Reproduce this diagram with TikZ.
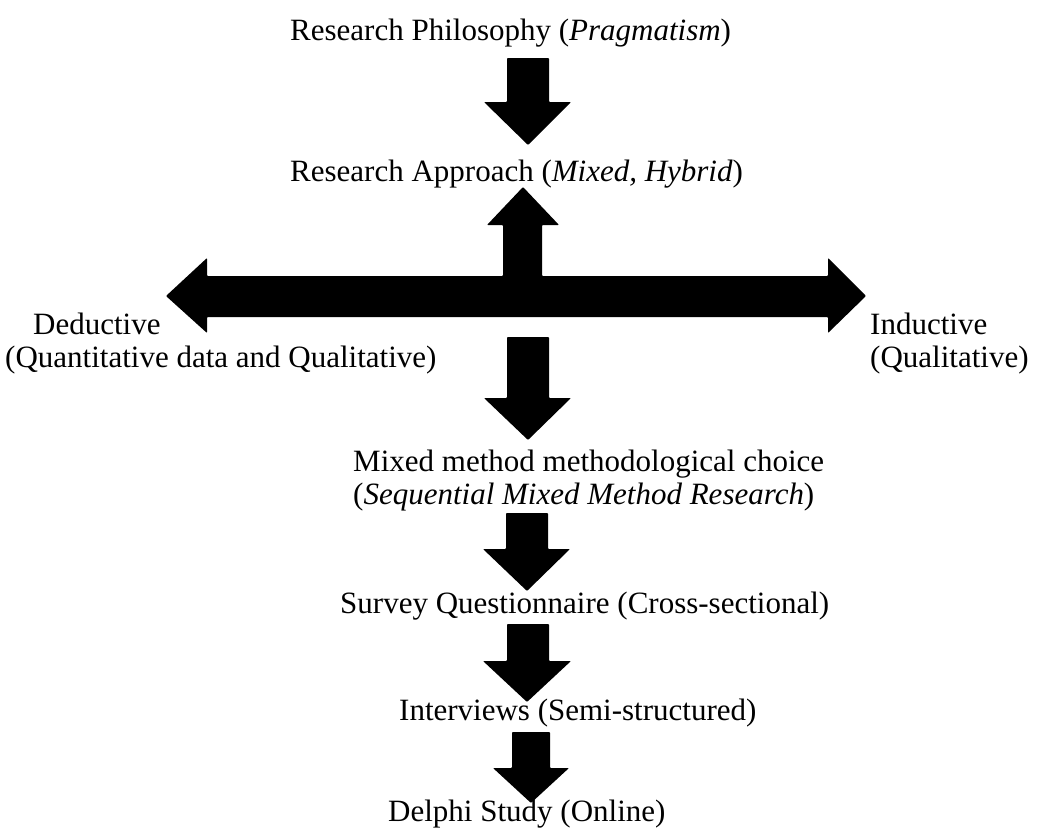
\documentclass[tikz,border=0pt]{standalone}
\usepackage{fontspec}
\setmainfont{Liberation Serif}

\begin{document}
\begin{tikzpicture}[x=1pt, y=-1pt,
	every node/.style={inner sep=0pt, font=\fontsize{31}{33}\selectfont},
	blockarrow/.style={fill=black, rounded corners=0.8pt}]

\useasboundingbox (0,0) rectangle (1045,830);

% labels (base of multi-line labels is their last line)
\node[anchor=base west] (philosophy) at (290,40) {Research Philosophy (\textit{Pragmatism})};
\node[anchor=base west] (approach) at (290,181) {Research Approach (\textit{Mixed, Hybrid})};
\node[anchor=base west, align=left] (deductive) at (5,367) {\hspace*{28pt}Deductive\\(Quantitative data and Qualitative)};
\node[anchor=base west, align=left] (inductive) at (870,367) {Inductive\\(Qualitative)};
\node[anchor=base west, align=left] (choice) at (353,504) {Mixed method methodological choice\\(\textit{Sequential Mixed Method Research})};
\node[anchor=base west] (survey) at (340,613) {Survey Questionnaire (Cross-sectional)};
\node[anchor=base west] (interviews) at (399,720) {Interviews (Semi-structured)};
\node[anchor=base west] (delphi) at (388,821) {Delphi Study (Online)};

% philosophy to approach
\fill[blockarrow] (507,58) -- (549,58) -- (549,102) -- (571,102) -- (528,145)
	-- (484,102) -- (507,102) -- cycle;

% deductive - inductive, up to approach
\fill[blockarrow] (166,296) -- (207,258) -- (207,276) -- (503,276) -- (503,225)
	-- (487,225) -- (523,187) -- (559,225) -- (542,225) -- (542,276)
	-- (828,276) -- (828,258) -- (866,296) -- (828,333) -- (828,317)
	-- (207,317) -- (207,333) -- cycle;

% down to methodological choice
\fill[blockarrow] (507,337) -- (549,337) -- (549,398) -- (571,398) -- (528,440)
	-- (484,398) -- (507,398) -- cycle;

% down to survey
\fill[blockarrow] (506,513) -- (548,513) -- (548,549) -- (570,549) -- (527,591)
	-- (483,549) -- (506,549) -- cycle;

% down to interviews
\fill[blockarrow] (507,624) -- (549,624) -- (549,661) -- (571,661) -- (527,702)
	-- (483,661) -- (507,661) -- cycle;

% down to delphi
\fill[blockarrow] (512,732) -- (550,732) -- (550,768) -- (569,768) -- (531,803)
	-- (493,768) -- (512,768) -- cycle;

\end{tikzpicture}
\end{document}
